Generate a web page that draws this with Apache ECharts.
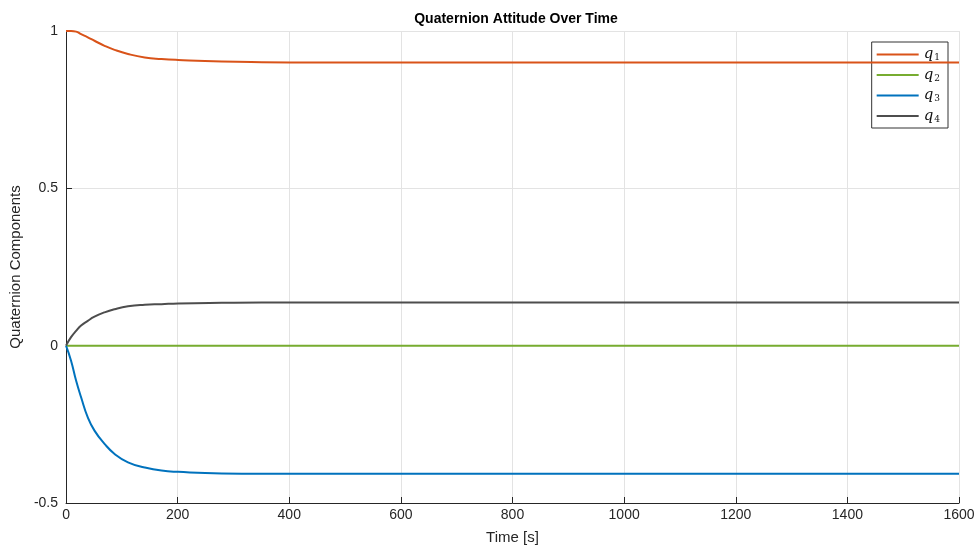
<!DOCTYPE html>
<html><head><meta charset="utf-8">
<script src="https://cdn.jsdelivr.net/npm/echarts@6/dist/echarts.min.js"></script>
<style>html,body{margin:0;padding:0;background:#fff}#c{width:980px;height:551px}</style>
</head><body><div id="c"></div>
<script>
var time = [0, 9, 18, 27, 39, 51, 69, 87, 111, 141, 171, 201, 279, 351, 450, 600, 1000, 1600];
var q1 = [1, 1.0, 0.998, 0.99, 0.98, 0.969, 0.953, 0.94, 0.927, 0.916, 0.911, 0.908, 0.903, 0.901, 0.9, 0.9, 0.9, 0.9];
var q2 = [0, 0, 0, 0, 0, 0, 0, 0, 0, 0, 0, 0, 0, 0, 0, 0, 0, 0];
var q3 = [0, -0.048, -0.111, -0.164, -0.228, -0.27, -0.312, -0.344, -0.371, -0.387, -0.397, -0.401, -0.406, -0.407, -0.407, -0.407, -0.407, -0.407];
var q4 = [0, 0.027, 0.047, 0.064, 0.079, 0.092, 0.106, 0.116, 0.125, 0.13, 0.132, 0.134, 0.136, 0.137, 0.137, 0.137, 0.137, 0.137];
var names = ['q1', 'q2', 'q3', 'q4'];
var colors = ['#D95319', '#77AC30', '#0072BD', '#4D4D4D'];
var yTicks = [-0.5, 0, 0.5, 1];
var xTicks = [0, 200, 400, 600, 800, 1000, 1200, 1400, 1600];

function pairs(v) { return time.map(function (t, i) { return [t, v[i]]; }); }
var all = [q1, q2, q3, q4];
var chart = echarts.init(document.getElementById('c'));
var axisCol = '#262626';
var font = 'Liberation Sans, Arial, sans-serif';
chart.setOption({
  animation: false,
  backgroundColor: '#fff',
  title: {
    text: 'Quaternion Attitude Over Time', left: 511, top: 7, textAlign: 'center',
    textStyle: { fontFamily: font, fontWeight: 'bold', fontSize: 14, color: '#000' }
  },
  grid: { left: 63, right: 21, top: 31, bottom: 48, containLabel: false },
  legend: {
    orient: 'vertical', right: 32, top: 42, itemWidth: 42, itemHeight: 12, itemGap: 5,
    padding: [5, 8, 4, 5], borderColor: '#333', borderWidth: 1, backgroundColor: '#fff',
    icon: 'path://M0,5 L42,5 L42,7 L0,7 Z',
    data: names,
    formatter: function (n) { return '{q|q}{s|' + n.slice(1) + '}'; },
    textStyle: {
      rich: {
        q: { fontFamily: 'DejaVu Serif, Liberation Serif, serif', fontStyle: 'italic', fontSize: 15, color: '#111' },
        s: { fontFamily: 'DejaVu Serif, Liberation Serif, serif', fontSize: 9, color: '#111', padding: [7, 0, 0, 1] }
      }
    }
  },
  xAxis: {
    type: 'value', min: 0, max: 1600, interval: 200,
    name: 'Time [s]', nameLocation: 'middle', nameGap: 27,
    nameTextStyle: { fontFamily: font, fontSize: 15, color: '#262626' },
    axisLine: { onZero: false, lineStyle: { color: axisCol, width: 1 } },
    axisTick: { inside: true, length: 6, lineStyle: { color: axisCol } },
    axisLabel: { fontFamily: font, fontSize: 14, color: '#262626', margin: 5, formatter: function (v) { return String(v); } },
    splitLine: { show: true, lineStyle: { color: '#e3e3e3', width: 1 } }
  },
  yAxis: {
    type: 'value', min: -0.5, max: 1, interval: 0.5,
    name: 'Quaternion Components', nameLocation: 'middle', nameGap: 37, nameRotate: 90,
    nameTextStyle: { fontFamily: font, fontSize: 15, color: '#262626' },
    axisLine: { show: true, onZero: false, lineStyle: { color: axisCol, width: 1 } },
    axisTick: { show: true, inside: true, length: 6, lineStyle: { color: axisCol } },
    axisLabel: { fontFamily: font, fontSize: 14, color: '#262626', margin: 8, formatter: function (v) { return String(v); } },
    splitLine: { show: true, lineStyle: { color: '#e3e3e3', width: 1 } }
  },
  series: names.map(function (n, i) {
    return {
      name: n, type: 'line', data: pairs(all[i]), showSymbol: false, symbol: 'none',
      smooth: true, color: colors[i],
      lineStyle: { width: 2, color: colors[i] }, z: 3 + (i === 0 ? 1 : 0)
    };
  })
});
</script></body></html>
